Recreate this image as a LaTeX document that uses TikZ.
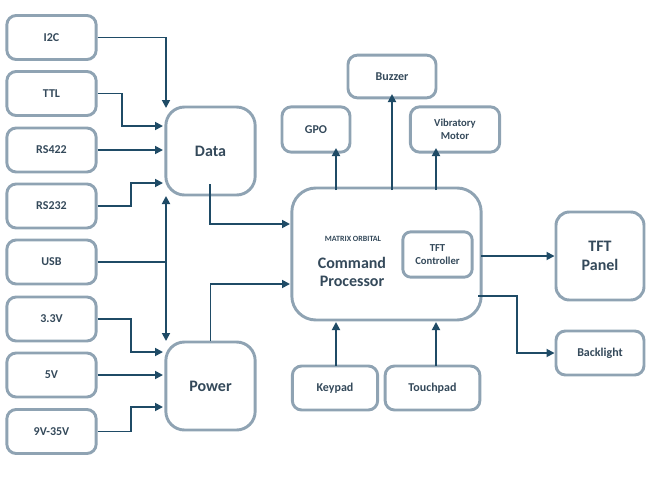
\documentclass[tikz,border=0pt]{standalone}
\usepackage{fontspec}
\setmainfont{Carlito}
\usetikzlibrary{arrows.meta}
\definecolor{bd}{HTML}{8FA3B3}
\definecolor{ar}{HTML}{1F4B66}
\definecolor{tx}{HTML}{34495A}
\begin{document}
\begin{tikzpicture}[x=0.75pt,y=-0.75pt,
 box/.style={draw=bd,line width=2.2pt,rounded corners=7pt,text=tx,font=\bfseries\small,align=center,inner sep=0pt},
 arr/.style={draw=ar,line width=1.3pt,-{Triangle[length=6pt,width=6pt]}}]
\useasboundingbox (0,0) rectangle (658,479);
\node[box,minimum width=67pt,minimum height=33pt] (i2c) at (51.5,37.5) {I2C};
\node[box,minimum width=67pt,minimum height=33pt] (ttl) at (51.5,93.5) {TTL};
\node[box,minimum width=67pt,minimum height=33pt] (rs422) at (51.5,150) {RS422};
\node[box,minimum width=67pt,minimum height=33pt] (rs232) at (51.5,206) {RS232};
\node[box,minimum width=67pt,minimum height=33pt] (usb) at (51.5,262) {USB};
\node[box,minimum width=67pt,minimum height=33pt] (v33) at (51.5,319) {3.3V};
\node[box,minimum width=67pt,minimum height=33pt] (v5) at (51.5,375) {5V};
\node[box,minimum width=67pt,minimum height=33pt] (v9) at (51.5,431.5) {9V-35V};
\node[box,minimum width=67pt,minimum height=66pt,rounded corners=14pt,font=\bfseries\large] (data) at (210.5,151) {Data};
\node[box,minimum width=67pt,minimum height=66pt,rounded corners=14pt,font=\bfseries\large] (power) at (210.5,386) {Power};
\node[box,minimum width=142pt,minimum height=99pt,rounded corners=18pt] (cmd) at (386.5,254) {};
\node[text=tx,font=\bfseries\large,align=center,inner sep=0pt] (cmdt) at (352,272) {Command\\Processor};
\node[text=tx,font=\bfseries\fontsize{6}{7}\selectfont,inner sep=0pt] (logo) at (353,239) {MATRIX ORBITAL};
\node[box,minimum width=52pt,minimum height=34pt,rounded corners=6pt,font=\bfseries\footnotesize] (tftc) at (437.5,254.5) {TFT\\Controller};
\node[box,minimum width=51pt,minimum height=34pt] (gpo) at (316,129.5) {GPO};
\node[box,minimum width=66pt,minimum height=32pt] (buz) at (392,76.5) {Buzzer};
\node[box,minimum width=67pt,minimum height=34pt,font=\bfseries\footnotesize] (vib) at (455,129.5) {Vibratory\\Motor};
\node[box,minimum width=66pt,minimum height=66pt,rounded corners=10pt,font=\bfseries\large] (tft) at (600,256) {TFT\\Panel};
\node[box,minimum width=66pt,minimum height=33pt] (bl) at (600,353) {Backlight};
\node[box,minimum width=64pt,minimum height=33pt] (key) at (335,388) {Keypad};
\node[box,minimum width=71pt,minimum height=33pt] (touch) at (432.5,388) {Touchpad};
\coordinate (usbj) at (166,262);
\draw[arr] (i2c.east) -| (166,108);
\draw[arr] (ttl.east) -| (122,126) -- (163,126);
\draw[arr] (rs422.east) -- (163,150);
\draw[arr] (rs232.east) -| (131,183) -- (163,183);
\draw[arr] (usb.east) -- (usbj) -- (166,196);
\draw[arr] (usbj) -- (166,341);
\draw[arr] (v33.east) -| (131,352) -- (163,352);
\draw[arr] (v5.east) -- (163,375);
\draw[arr] (v9.east) -| (131,407) -- (163,407);
\draw[arr] (210,184) |- (290,224);
\draw[arr] (power.north) |- (290,284);
\draw[arr] (336,190) -- (336,148);
\draw[arr] (392,190) -- (392,94);
\draw[arr] (436,190) -- (436,148);
\draw[arr] (481,256) -- (tft.west);
\draw[arr] (478,296) -- (517,296) |- (bl.west);
\draw[arr] (336,366) -- (336,322);
\draw[arr] (436,366) -- (436,322);
\end{tikzpicture}
\end{document}
